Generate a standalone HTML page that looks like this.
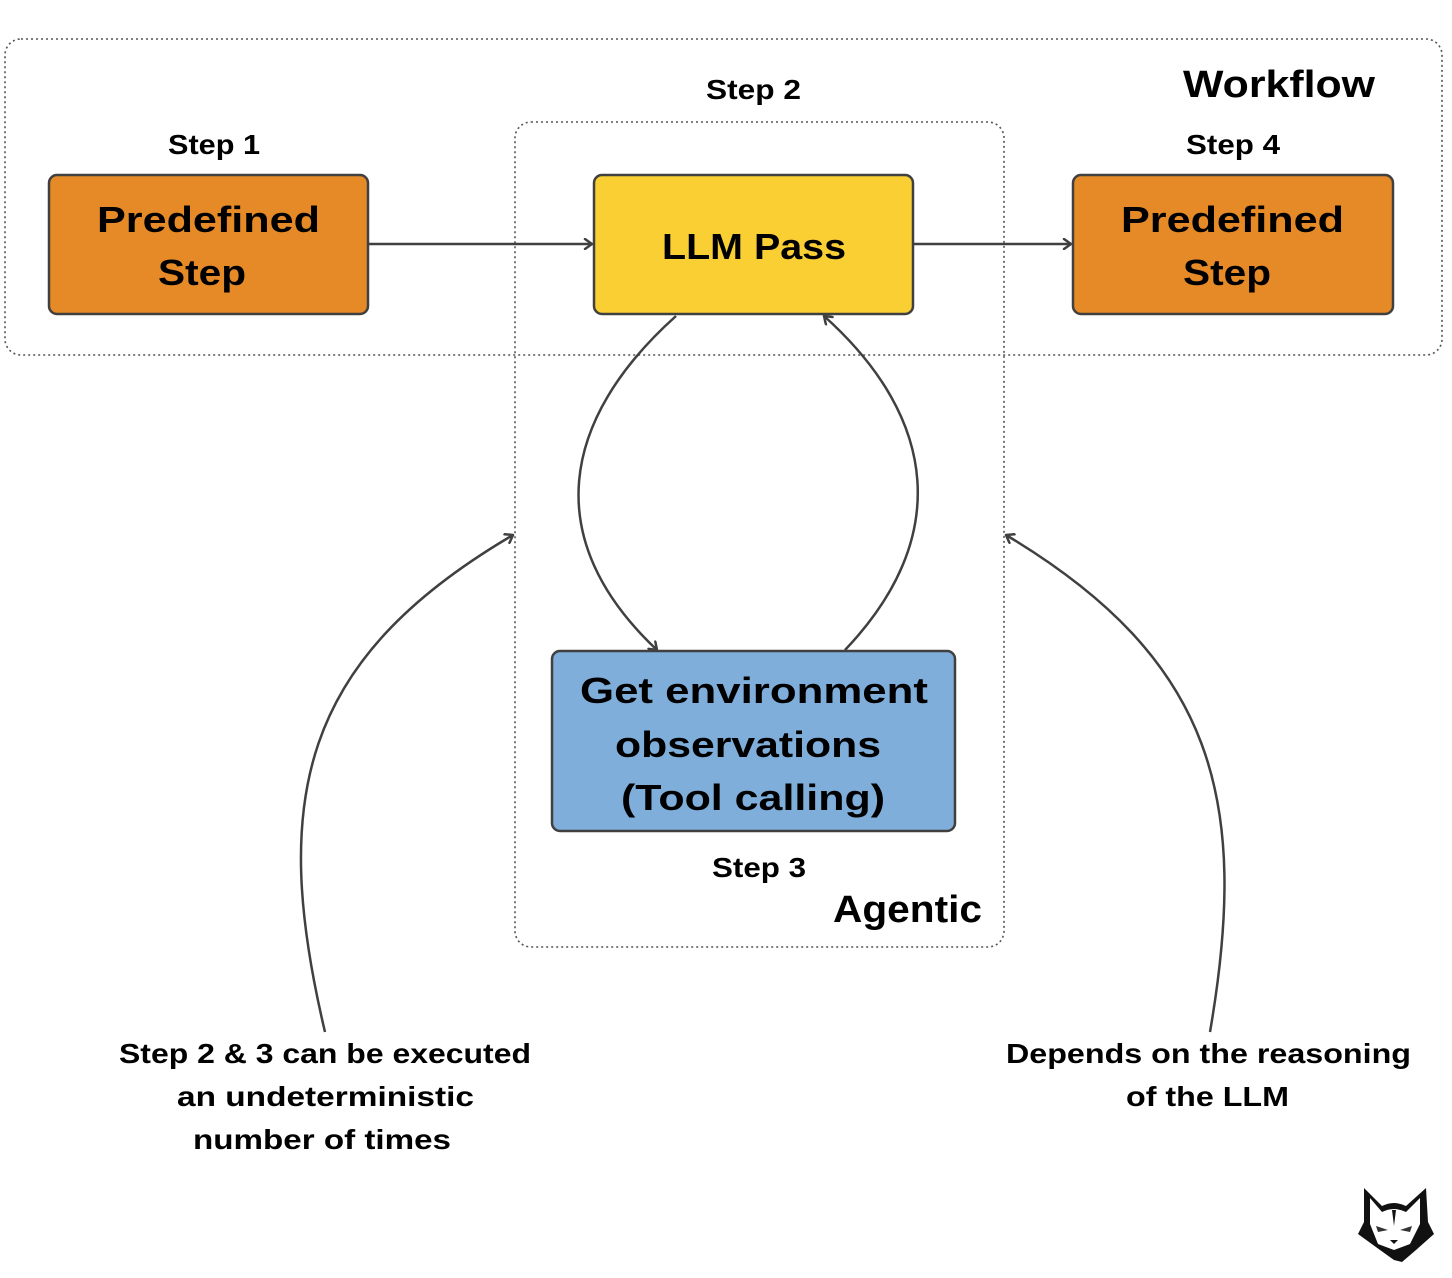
<!DOCTYPE html>
<html><head><meta charset="utf-8"><style>
html,body{margin:0;padding:0;background:#fff}
svg{display:block}
text{font-family:"Liberation Sans","DejaVu Sans",sans-serif;font-weight:bold;fill:#000}
</style></head><body>
<svg width="1452" height="1278" viewBox="0 0 1452 1278" xmlns="http://www.w3.org/2000/svg">
<defs>
<marker id="a" markerWidth="12" markerHeight="12" refX="9" refY="6" orient="auto" markerUnits="userSpaceOnUse">
<path d="M2 1 L9 6 L2 11" fill="none" stroke="#404040" stroke-width="2.5" stroke-linecap="round" stroke-linejoin="round"/>
</marker>
</defs>
<rect x="5" y="39" width="1437" height="316" rx="16" fill="none" stroke="#555" stroke-width="1.6" stroke-dasharray="2 3"/>
<rect x="515" y="122" width="489" height="825" rx="16" fill="none" stroke="#555" stroke-width="1.6" stroke-dasharray="2 3"/>

<g stroke="#404040" stroke-width="2.5" fill="none" marker-end="url(#a)">
<line x1="368" y1="244" x2="592" y2="244"/>
<line x1="913" y1="244" x2="1071" y2="244"/>
<path d="M676 316 C 560 420, 540 540, 657 650"/>
<path d="M845 650 C 950 540, 940 420, 824 316"/>
<path d="M325 1032 C 270 800, 300 660, 513 535"/>
<path d="M1210 1032 C 1250 800, 1215 660, 1006 535"/>
</g>

<rect x="49" y="175" width="319" height="139" rx="8" fill="#E68A27" stroke="#404040" stroke-width="2.5"/>
<rect x="1073" y="175" width="320" height="139" rx="8" fill="#E68A27" stroke="#404040" stroke-width="2.5"/>
<rect x="594" y="175" width="319" height="139" rx="8" fill="#F9CF33" stroke="#404040" stroke-width="2.5"/>
<rect x="552" y="651" width="403" height="180" rx="8" fill="#7FAEDB" stroke="#404040" stroke-width="2.5"/>

<g font-size="36">
<text x="97" y="232" textLength="223" lengthAdjust="spacingAndGlyphs">Predefined</text>
<text x="158" y="285" textLength="88" lengthAdjust="spacingAndGlyphs">Step</text>
<text x="1121" y="232" textLength="223" lengthAdjust="spacingAndGlyphs">Predefined</text>
<text x="1183" y="285" textLength="88" lengthAdjust="spacingAndGlyphs">Step</text>
<text x="662" y="259" textLength="184" lengthAdjust="spacingAndGlyphs">LLM Pass</text>
<text x="580" y="703" textLength="348" lengthAdjust="spacingAndGlyphs">Get environment</text>
<text x="615" y="757" textLength="266" lengthAdjust="spacingAndGlyphs">observations</text>
<text x="621" y="810" textLength="264" lengthAdjust="spacingAndGlyphs">(Tool calling)</text>
</g>
<g font-size="28">
<text x="168" y="154" textLength="92" lengthAdjust="spacingAndGlyphs">Step 1</text>
<text x="706" y="99" textLength="95" lengthAdjust="spacingAndGlyphs">Step 2</text>
<text x="1186" y="154" textLength="94" lengthAdjust="spacingAndGlyphs">Step 4</text>
<text x="712" y="877" textLength="94" lengthAdjust="spacingAndGlyphs">Step 3</text>
<text x="119" y="1063" textLength="412" lengthAdjust="spacingAndGlyphs">Step 2 &amp; 3 can be executed</text>
<text x="177" y="1106" textLength="297" lengthAdjust="spacingAndGlyphs">an undeterministic</text>
<text x="193" y="1149" textLength="258" lengthAdjust="spacingAndGlyphs">number of times</text>
<text x="1006" y="1063" textLength="405" lengthAdjust="spacingAndGlyphs">Depends on the reasoning</text>
<text x="1126" y="1106" textLength="163" lengthAdjust="spacingAndGlyphs">of the LLM</text>
</g>
<g font-size="38">
<text x="1183" y="97" textLength="192" lengthAdjust="spacingAndGlyphs">Workflow</text>
<text x="833" y="922" textLength="149" lengthAdjust="spacingAndGlyphs">Agentic</text>
</g>

<g transform="translate(1356,1186)">
<path d="M8 2 L26 20 Q38 14 50 20 L70 2 L72 36 L78 48 L60 64 L46 76 L38 74 L24 64 L2 48 L8 36 Z" fill="#111"/>
<path d="M14 12 L26 26 Q38 20 50 26 L64 12 L64 38 L54 58 L38 64 L22 58 L14 38 Z" fill="#fff"/>
<path d="M36 24 L38 40 L40 24 Z" fill="#111"/>
<path d="M20 40 L32 44 L22 46 Z M56 40 L44 44 L54 46 Z" fill="#333"/>
<path d="M34 54 L42 54 L38 58 Z" fill="#111"/>
</g>
</svg>
</body></html>
